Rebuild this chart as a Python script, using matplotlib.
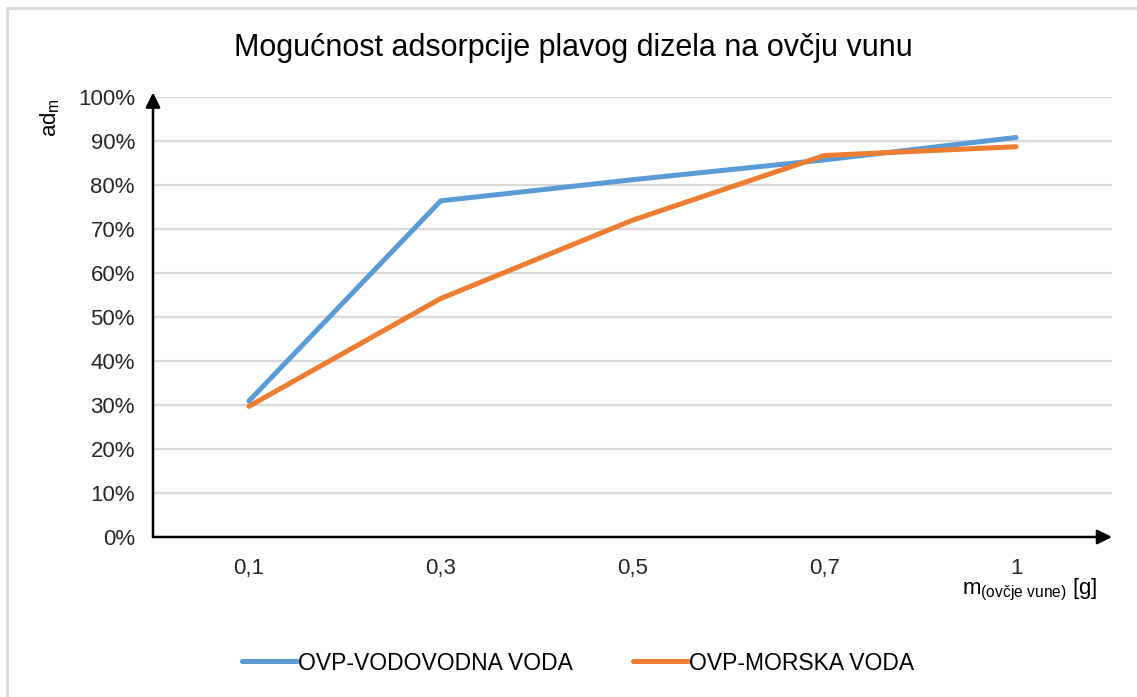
import matplotlib
matplotlib.use('Agg')
import matplotlib.pyplot as plt
from matplotlib.lines import Line2D
from matplotlib.ticker import PercentFormatter

plt.rcParams['font.family'] = ['Liberation Sans', 'DejaVu Sans']
plt.rcParams['mathtext.fontset'] = 'custom'
plt.rcParams['mathtext.rm'] = 'Liberation Sans'
plt.rcParams['mathtext.it'] = 'Liberation Sans'

# data
categories = ['0,1', '0,3', '0,5', '0,7', '1']
vodovodna = [0.309, 0.764, 0.812, 0.857, 0.908]
morska = [0.297, 0.542, 0.720, 0.867, 0.887]
series_names = ['OVP-VODOVODNA VODA', 'OVP-MORSKA VODA']

W, H = 1137, 697
fig = plt.figure(figsize=(W / 100, H / 100), dpi=100)
ax = fig.add_axes([153 / W, 1 - 537 / H, (1112 - 153) / W, (537 - 97) / H])

x = range(len(categories))
ax.plot(x, vodovodna, color='#5b9bd5', linewidth=3.6, label=series_names[0],
        solid_capstyle='round', zorder=3)
ax.plot(x, morska, color='#ed7d31', linewidth=3.6, label=series_names[1],
        solid_capstyle='round', zorder=3)

ax.set_xlim(-0.5, len(categories) - 0.5)
ax.set_ylim(0, 1)
ax.set_yticks([i / 10 for i in range(11)])
ax.yaxis.set_major_formatter(PercentFormatter(1.0, decimals=0))
ax.set_xticks(list(x))
ax.set_xticklabels(categories)
ax.tick_params(axis='both', length=0, labelsize=16, colors='#262626')
ax.tick_params(axis='x', pad=15)
ax.tick_params(axis='y', pad=13)

for v in [i / 10 for i in range(1, 11)]:
    ax.axhline(v, color='#d9d9d9', linewidth=1.6, zorder=1)

for s in ax.spines.values():
    s.set_visible(False)

# axis arrows
ax.annotate('', xy=(0, 1.01), xytext=(0, 0), xycoords='axes fraction',
            arrowprops=dict(arrowstyle='-|>', color='black', lw=1.8,
                            mutation_scale=22, shrinkA=0, shrinkB=0), zorder=4)
ax.annotate('', xy=(1.0, 0), xytext=(0, 0), xycoords='axes fraction',
            arrowprops=dict(arrowstyle='-|>', color='black', lw=1.8,
                            mutation_scale=22, shrinkA=0, shrinkB=0), zorder=4)

fig.text(573 / W, 1 - 48 / H, 'Mogućnost adsorpcije plavog dizela na ovčju vunu',
         ha='center', va='center', fontsize=22, color='black')

fig.text(50 / W, 1 - 118 / H, r'ad$_\mathrm{m}$', rotation=90,
         ha='center', va='center', fontsize=16, color='black')

fig.text(1098 / W, 1 - 590 / H, r'm$_\mathrm{(ovčje\ vune)}$ [g]',
         ha='right', va='center', fontsize=16, color='black')

fig.legend(loc='center', bbox_to_anchor=(578 / W, 1 - 663 / H), ncol=2,
           frameon=False, fontsize=16.5, handlelength=2.4, handletextpad=0.05,
           columnspacing=2.6)

# chart area border (only top and left visible in the reference)
fig.add_artist(Line2D([7 / W, 7 / W], [0, 1 - 8 / H], color='#d9d9d9', linewidth=2))
fig.add_artist(Line2D([7 / W, 1], [1 - 8 / H, 1 - 8 / H], color='#d9d9d9', linewidth=2))

fig.savefig('out.png', dpi=100)
